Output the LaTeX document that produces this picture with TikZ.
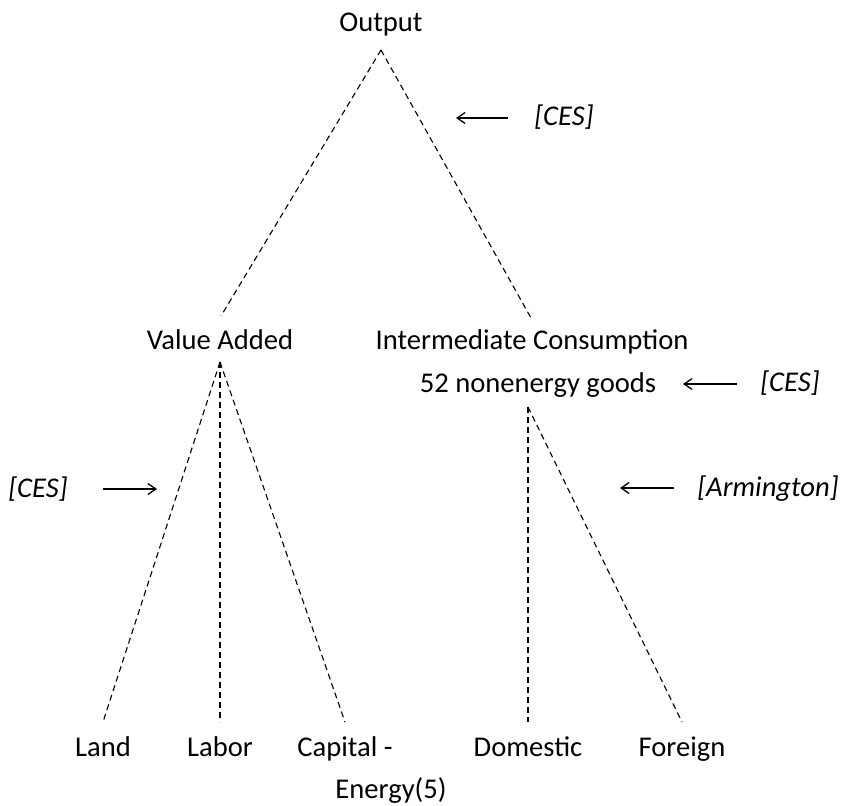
\documentclass[tikz,border=0pt]{standalone}
\usepackage{fontspec}
\setmainfont{Carlito}
\usepackage{tikz}
\usetikzlibrary{positioning, arrows.meta}

\begin{document}
\begin{tikzpicture}[
    x=0.5pt, y=-0.5pt,
    font       = \fontsize{14.3}{17.2}\selectfont,
    lbl/.style = {inner sep=0pt, anchor=base},
    tag/.style = {inner sep=0pt, anchor=base, font=\fontsize{14.3}{17.2}\selectfont\itshape},
    br/.style  = {line width=0.55pt, dash pattern=on 3pt off 2pt},
    arr/.style = {-{Straight Barb[length=4pt, width=5.5pt]}, line width=0.65pt},
  ]
  \useasboundingbox (0,0) rectangle (845,806);
  % labels
  \node[lbl] (out)  at (381,32)  {Output};
  \node[lbl] (va)   at (220,350) {Value Added};
  \node[lbl] (ic)   at (532,350) {Intermediate Consumption};
  \node[lbl] (neg)  at (538,393) {52 nonenergy goods};
  \node[lbl] (land) at (103,756) {Land};
  \node[lbl] (lab)  at (220,756) {Labor};
  \node[lbl] (cap)  at (345,756) {Capital -};
  \node[lbl] (ene)  at (391,798) {Energy(5)};
  \node[lbl] (dom)  at (528,756) {Domestic};
  \node[lbl] (for)  at (682,756) {Foreign};
  % branch points
  \coordinate (outT) at (381,50);
  \coordinate (vaB)  at (221,316);
  \coordinate (icB)  at (531,318);
  \coordinate (vaT)  at (220,362);
  \coordinate (landB) at (103,722);
  \coordinate (labB)  at (220,722);
  \coordinate (capB)  at (345,722);
  \coordinate (icT)  at (528,407);
  \coordinate (domB) at (528,722);
  \coordinate (forB) at (682,722);
  \draw[br] (outT) -- (vaB);
  \draw[br] (outT) -- (icB);
  \draw[br] (vaT) -- (landB);
  \draw[br] (vaT) -- (labB);
  \draw[br] (vaT) -- (capB);
  \draw[br] (icT) -- (domB);
  \draw[br] (icT) -- (forB);
  % function tags
  \node[tag] (cesA) at (564,126) {[CES]};
  \node[tag] (cesB) at (790,392) {[CES]};
  \node[tag] (cesC) at (38,497)  {[CES]};
  \node[tag] (arm)  at (768,496) {[Armington]};
  \coordinate (aA1) at (508,118); \coordinate (aA2) at (456,118);
  \coordinate (aB1) at (737,384); \coordinate (aB2) at (683,384);
  \coordinate (aC1) at (103,489); \coordinate (aC2) at (157,489);
  \coordinate (aD1) at (674,488); \coordinate (aD2) at (620,488);
  \draw[arr] (aA1) -- (aA2);
  \draw[arr] (aB1) -- (aB2);
  \draw[arr] (aC1) -- (aC2);
  \draw[arr] (aD1) -- (aD2);
\end{tikzpicture}
\end{document}
